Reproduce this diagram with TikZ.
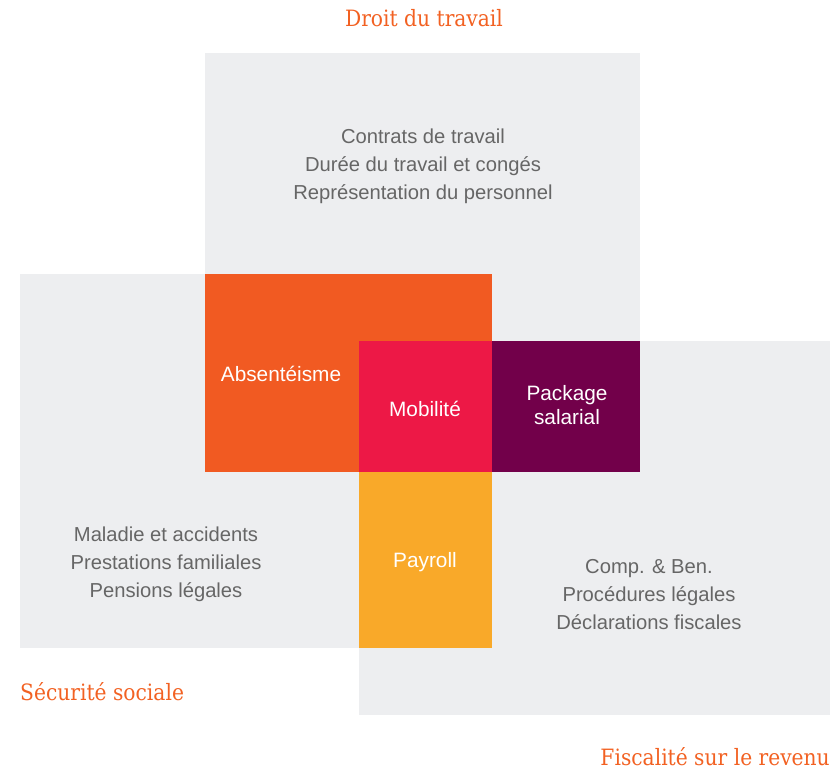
\documentclass[tikz,border=0pt]{standalone}
\usepackage{fontspec}
\setmainfont{Liberation Sans}
\newfontfamily\titlefont{DejaVu Serif Condensed}
\definecolor{zonegray}{HTML}{EDEEF0}
\definecolor{absorange}{HTML}{F15A22}
\definecolor{mobred}{HTML}{ED1846}
\definecolor{packpurple}{HTML}{72004A}
\definecolor{payyellow}{HTML}{F9A929}
\definecolor{titleorange}{HTML}{F26122}
\definecolor{bodygray}{HTML}{666666}
\begin{document}
\begin{tikzpicture}[
    x=1pt, y=-1pt,
    zone/.style={rectangle, fill=zonegray, inner sep=0pt, outer sep=0pt},
    block/.style={rectangle, inner sep=0pt, outer sep=0pt},
    title/.style={text=titleorange, font=\titlefont\fontsize{22.5}{26}\selectfont, inner sep=0pt},
    topic/.style={text=bodygray, align=center, font=\fontsize{20.2}{28}\selectfont, inner sep=0pt},
    label/.style={text=white, align=center, font=\fontsize{20.8}{24}\selectfont, inner sep=0pt}
]
\useasboundingbox (0,0) rectangle (839,773);

% zones
\node[zone, minimum width=435pt, minimum height=288pt, anchor=north west] (droit) at (205,53) {};
\node[zone, minimum width=472pt, minimum height=374pt, anchor=north west] (secu) at (20,274) {};
\node[zone, minimum width=471pt, minimum height=374pt, anchor=north west] (fisc) at (359,341) {};

% blocks
\node[block, fill=absorange, minimum width=287pt, minimum height=198pt, anchor=north west] (absent) at (205,274) {};
\node[block, fill=mobred, minimum width=133pt, minimum height=131pt, anchor=north west] (mobil) at (359,341) {};
\node[block, fill=packpurple, minimum width=148pt, minimum height=131pt, anchor=north west] (pack) at (492,341) {};
\node[block, fill=payyellow, minimum width=133pt, minimum height=176pt, anchor=north west] (pay) at (359,472) {};

% titles
\node[title] (tdroit) at (424,18) {Droit du travail};
\node[title, anchor=west] (tsecu) at (20,692) {Sécurité sociale};
\node[title, anchor=east] (tfisc) at (830,757) {Fiscalité sur le revenu};

% topics
\node[topic] (ldroit) at (423,166) {Contrats de travail\\Durée du travail et congés\\Représentation du personnel};
\node[topic] (lsecu) at (166,564) {Maladie et accidents\\Prestations familiales\\Pensions légales};
\node[topic] (lfisc) at (649,595) {Comp. \& Ben.\\Procédures légales\\Déclarations fiscales};

% labels
\node[label] (labsent) at (281,374) {Absentéisme};
\node[label] (lmobil) at (425,409) {Mobilité};
\node[label] (lpack) at (567,405) {Package\\salarial};
\node[label] (lpay) at (425,562) {Payroll};

\end{tikzpicture}
\end{document}
